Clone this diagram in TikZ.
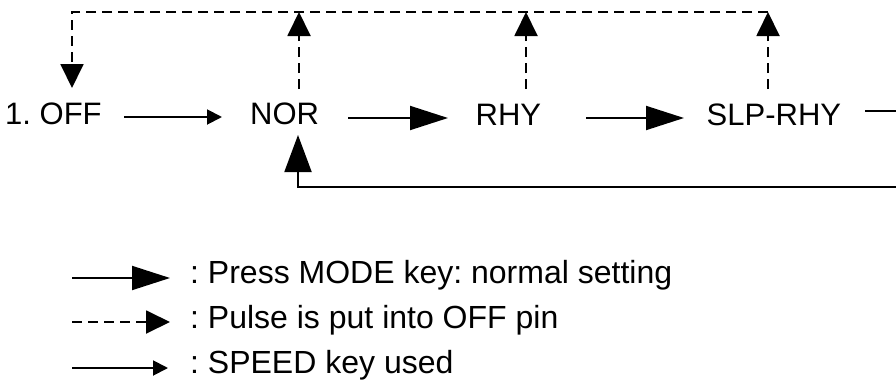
\documentclass[tikz,border=0pt]{standalone}
\usepackage{fontspec}
\setmainfont{Liberation Sans}
\usetikzlibrary{arrows.meta}
\frenchspacing
\begin{document}
\begin{tikzpicture}[x=1pt,y=-1pt,
  lbl/.style={inner sep=0pt, anchor=base west, font=\fontsize{31}{37}\selectfont},
  leglbl/.style={inner sep=0pt, anchor=base west, font=\fontsize{32}{38}\selectfont},
  modearrow/.style={line width=1.9pt, -{Triangle[length=38pt,width=24pt]}},
  speedarrow/.style={line width=1.9pt, -{Triangle[length=15pt,width=15pt]}},
  pulseline/.style={line width=1.9pt, dash pattern=on 10pt off 6pt},
  pulsearrow/.style={pulseline, -{Triangle[length=24pt,width=23pt]}},
  backarrow/.style={line width=1.9pt, -{Triangle[length=37pt,width=27pt]}}
]
\useasboundingbox (0,0) rectangle (896,380);

% state labels
\node[lbl] (off) at (5,124) {1. OFF};
\node[lbl] (nor) at (250,124) {NOR};
\node[lbl] (rhy) at (475.5,125) {RHY};
\node[lbl] (slp) at (706.5,125) {SLP-RHY};

% connector end points
\coordinate (offA) at (124,117);  \coordinate (norL) at (222,117);
\coordinate (norA) at (348,118);  \coordinate (rhyL) at (448,118);
\coordinate (rhyA) at (586,118);  \coordinate (slpL) at (684,118);
\coordinate (slpA) at (865,111);  \coordinate (rightEdge) at (896,111);
\coordinate (offTop) at (72,88);
\coordinate (norUp) at (299,89);  \coordinate (norTop) at (299,12);
\coordinate (rhyUp) at (526,89);  \coordinate (rhyTop) at (526,12);
\coordinate (slpUp) at (768,89);  \coordinate (slpTop) at (768,12);
\coordinate (cornerTL) at (72,12);
\coordinate (norBot) at (298,135); \coordinate (botCorner) at (298,187);
\coordinate (botEdge) at (896,187);

% forward (MODE / SPEED) arrows
\draw[speedarrow] (offA) -- (norL);
\draw[modearrow] (norA) -- (rhyL);
\draw[modearrow] (rhyA) -- (slpL);
\draw[line width=1.9pt] (slpA) -- (rightEdge);

% return to NOR
\draw[backarrow] (botEdge) -- (botCorner) -- (norBot);

% pulse (OFF pin) arrows
\draw[pulsearrow] (slpTop) -- (cornerTL) -- (offTop);
\draw[pulsearrow] (norUp) -- (norTop);
\draw[pulsearrow] (rhyUp) -- (rhyTop);
\draw[pulsearrow] (slpUp) -- (slpTop);

% legend
\coordinate (l1a) at (72,278); \coordinate (l1b) at (170,278);
\coordinate (l2a) at (72,322); \coordinate (l2b) at (170,322);
\coordinate (l3a) at (72,368); \coordinate (l3b) at (168,368);
\draw[modearrow] (l1a) -- (l1b);
\draw[pulsearrow] (l2a) -- (l2b);
\draw[speedarrow] (l3a) -- (l3b);
\node[leglbl] (leg1) at (190,283) {: Press MODE key: normal setting};
\node[leglbl] (leg2) at (190,328) {: Pulse is put into OFF pin};
\node[leglbl] (leg3) at (190,373) {: SPEED key used};
\end{tikzpicture}
\end{document}
